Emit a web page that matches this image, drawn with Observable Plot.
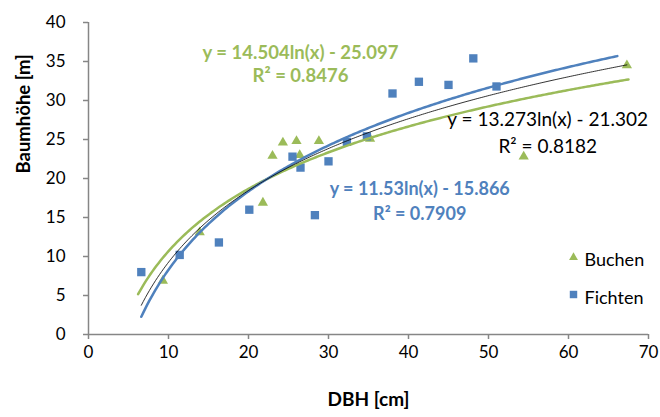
<!DOCTYPE html>
<html>
<head>
<meta charset="utf-8">
<script src="https://cdn.jsdelivr.net/npm/d3@7"></script>
<script src="https://cdn.jsdelivr.net/npm/@observablehq/plot@0.6"></script>
<style>
  body { margin: 0; background: #fff; }
  #chart svg { font-family: Lato, "Open Sans", sans-serif; }
</style>
</head>
<body>
<div id="chart"></div>
<script>
// --- data ---
const buchenX = [9.3, 13.9, 21.8, 23.0, 24.3, 26.0, 26.4, 28.8, 35.2, 54.4, 67.3];
const buchenY = [6.9, 13.1, 16.9, 22.9, 24.6, 24.8, 23.0, 24.8, 25.1, 22.8, 34.5];
const fichtenX = [6.6, 11.4, 16.3, 20.1, 25.5, 26.5, 28.3, 30.0, 32.3, 34.8, 38.0, 41.3, 45.0, 48.1, 51.0];
const fichtenY = [8.0, 10.2, 11.8, 16.0, 22.8, 21.4, 15.3, 22.2, 24.7, 25.4, 30.9, 32.4, 32.0, 35.4, 31.8];

// logarithmic trendlines y = a*ln(x) + b as drawn in the chart
const trendNames = ["green", "blue", "black"];
const trendCoefA = [11.53, 14.504, 13.273];
const trendCoefB = [-15.866, -25.097, -21.302];
const trendXMin = [6.2, 6.6, 6.6];
const trendXMax = [67.5, 66.1, 67.3];

// equation labels
const labelTexts = [
  "y = 14.504ln(x) - 25.097\nR² = 0.8476",
  "y = 11.53ln(x) - 15.866\nR² = 0.7909",
  "y = 13.273ln(x) - 21.302\nR² = 0.8182"
];
const labelX = [26.5, 41.4, 57.4];
const labelY = [34.8, 17.3, 26.1];

const xTicks = [0, 10, 20, 30, 40, 50, 60, 70];
const yTicks = [0, 5, 10, 15, 20, 25, 30, 35, 40];
const legendNames = ["Buchen", "Fichten"];

const GREEN = "#9BBB59", BLUE = "#4F81BD", AXIS = "#868686";

const buchen = buchenX.map((x, i) => ({x, y: buchenY[i]}));
const fichten = fichtenX.map((x, i) => ({x, y: fichtenY[i]}));
const trend = (k) => d3.range(0, 241).map(i => {
  const x = trendXMin[k] + (trendXMax[k] - trendXMin[k]) * i / 240;
  return {x, y: trendCoefA[k] * Math.log(x) + trendCoefB[k]};
});
const labels = labelTexts.map((t, i) => ({t, x: labelX[i], y: labelY[i]}));

const chart = Plot.plot({
  width: 660,
  height: 417,
  marginLeft: 88,
  marginRight: 12,
  marginTop: 22,
  marginBottom: 83,
  x: {domain: [0, 70]},
  y: {domain: [0, 40]},
  style: {background: "#fff", fontFamily: "Lato, sans-serif", fontSize: "17px", color: "#000"},
  marks: [
    Plot.axisX({ticks: xTicks, tickSize: 5, tickPadding: 6, stroke: AXIS, strokeWidth: 1.5, fill: "#000", fontSize: 17, label: null, tickFormat: d => String(d)}),
    Plot.axisY({ticks: yTicks, tickSize: 5, tickPadding: 18, stroke: AXIS, strokeWidth: 1.5, fill: "#000", fontSize: 17, label: null, tickFormat: d => String(d)}),
    Plot.ruleY([0], {stroke: AXIS, strokeWidth: 1.5}),
    Plot.ruleX([0], {stroke: AXIS, strokeWidth: 1.5}),
    Plot.dot(buchen, {x: "x", y: "y", symbol: "triangle", r: 3.8, fill: GREEN, stroke: "none"}),
    Plot.dot(fichten, {x: "x", y: "y", symbol: "square", r: 4.7, fill: BLUE, stroke: "none"}),
    Plot.line(trend(0), {x: "x", y: "y", stroke: GREEN, strokeWidth: 2.5}),
    Plot.line(trend(1), {x: "x", y: "y", stroke: BLUE, strokeWidth: 2.5}),
    Plot.line(trend(2), {x: "x", y: "y", stroke: "#000", strokeWidth: 0.8}),
    Plot.text([labels[0]], {x: "x", y: "y", text: "t", fill: GREEN, fontWeight: "bold", fontSize: 18.5, lineHeight: 1.28}),
    Plot.text([labels[1]], {x: "x", y: "y", text: "t", fill: BLUE, fontWeight: "bold", fontSize: 18, lineHeight: 1.36}),
    Plot.text([labels[2]], {x: "x", y: "y", text: "t", fill: "#000", fontSize: 19, lineHeight: 1.42}),
    // axis titles
    Plot.text(["DBH [cm]"], {frameAnchor: "bottom", dy: 71, text: d => d, fontWeight: "bold", fontSize: 19}),
    Plot.text(["Baumhöhe [m]"], {frameAnchor: "left", dx: -64, dy: -5, rotate: -90, text: d => d, fontWeight: "bold", fontSize: 18.5}),
    // legend
    Plot.dot([legendNames[0]], {frameAnchor: "top-left", dx: 485, dy: 235, symbol: "triangle", r: 3.3, fill: GREEN}),
    Plot.dot([legendNames[1]], {frameAnchor: "top-left", dx: 485, dy: 272, symbol: "square", r: 4.2, fill: BLUE}),
    Plot.text([legendNames[0]], {frameAnchor: "top-left", dx: 496, dy: 231, text: d => d, textAnchor: "start", fontSize: 18}),
    Plot.text([legendNames[1]], {frameAnchor: "top-left", dx: 496, dy: 269, text: d => d, textAnchor: "start", fontSize: 18})
  ]
});
document.getElementById("chart").appendChild(chart);
</script>
</body>
</html>
